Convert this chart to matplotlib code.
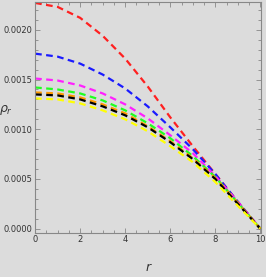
import matplotlib
matplotlib.use("Agg")
import matplotlib.pyplot as plt
from matplotlib.ticker import MultipleLocator

r = [0, 1, 2, 3, 4, 5, 6, 7, 8, 9, 10]
rho_red     = [0.00227, 0.00223, 0.00212, 0.00194, 0.00171, 0.00143, 0.00112, 0.00083, 0.00055, 0.00027, 0.0]
rho_blue    = [0.00176, 0.00173, 0.00166, 0.00155, 0.00141, 0.00123, 0.00102, 0.00080, 0.00055, 0.00027, 0.0]
rho_magenta = [0.00151, 0.00149, 0.00144, 0.00136, 0.00125, 0.00111, 0.00094, 0.00076, 0.00053, 0.00027, 0.0]
rho_green   = [0.00142, 0.00140, 0.00136, 0.00129, 0.00119, 0.00106, 0.00091, 0.00073, 0.00052, 0.00026, 0.0]
rho_orange  = [0.00137, 0.00136, 0.00132, 0.00125, 0.00116, 0.00103, 0.00088, 0.00071, 0.00051, 0.00026, 0.0]
rho_black   = [0.00135, 0.00134, 0.00130, 0.00123, 0.00114, 0.00102, 0.00087, 0.00070, 0.00050, 0.00025, 0.0]
rho_yellow  = [0.00131, 0.00130, 0.00126, 0.00119, 0.00110, 0.00098, 0.00083, 0.00067, 0.00047, 0.00023, 0.0]

series = [
    (rho_red, "#ff2020"),
    (rho_blue, "#1a1aff"),
    (rho_magenta, "#ff20ff"),
    (rho_green, "#20ff20"),
    (rho_orange, "#ff9900"),
    (rho_black, "#000000"),
    (rho_yellow, "#ffff00"),
]

bg = "#dcdcdc"
fig = plt.figure(figsize=(2.66, 2.77), dpi=100, facecolor=bg)
ax = fig.add_axes([0.132, 0.16, 0.851, 0.833])
ax.set_facecolor(bg)

for vals, c in series:
    ax.plot(r, vals, color=c, lw=1.6, ls=(0, (3, 2)))

ax.set_xlim(0, 10.05)
ax.set_ylim(-0.00004, 0.00228)

ax.xaxis.set_major_locator(MultipleLocator(2))
ax.xaxis.set_minor_locator(MultipleLocator(0.5))
ax.yaxis.set_major_locator(MultipleLocator(0.0005))
ax.yaxis.set_minor_locator(MultipleLocator(0.0001))
ax.yaxis.set_major_formatter(plt.FuncFormatter(lambda v, p: f"{v:.4f}"))
ax.xaxis.set_major_formatter(plt.FuncFormatter(lambda v, p: f"{v:.0f}"))

for s in ax.spines.values():
    s.set_color("#888888")
    s.set_linewidth(0.8)

ax.tick_params(which="both", direction="in", top=True, right=True, color="#888888",
               labelsize=6, labelcolor="#333333", width=0.6)
ax.tick_params(which="major", length=3.5, pad=2)
ax.tick_params(which="minor", length=2)

ax.set_xlabel("r", fontsize=9, style="italic", color="#333333", labelpad=12)
ax.set_ylabel(r"$\rho_r$", fontsize=9, color="#333333", rotation=0, labelpad=2)
ax.yaxis.set_label_coords(-0.13, 0.5)

fig.savefig("out.png", dpi=100, facecolor=bg)
